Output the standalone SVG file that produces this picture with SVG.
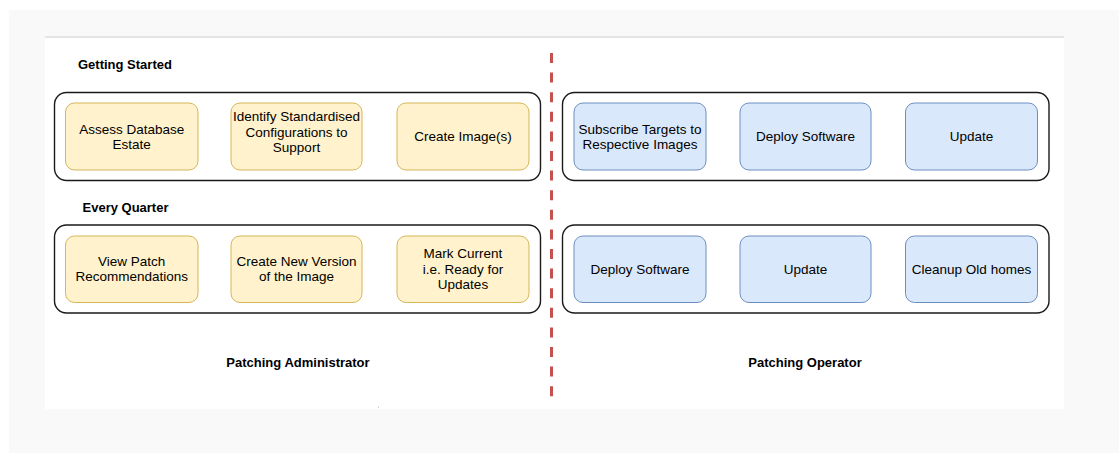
<svg xmlns="http://www.w3.org/2000/svg" width="1119" height="453" viewBox="0 0 1119 453">
<style>
.bg{fill:#f9f9f9}
.panel{fill:#ffffff}
.cont{fill:none;stroke:#1a1a1a;stroke-width:1.4}
.y{fill:#fff2cc;stroke:#d6b656;stroke-width:1}
.b{fill:#dae8fc;stroke:#6c8ebf;stroke-width:1}
text{font-family:"Liberation Sans",Arial,sans-serif;font-size:13.5px;fill:#000;text-anchor:middle}
.h{font-weight:bold;text-anchor:start;font-size:13px}
.f{font-weight:bold;font-size:13px}
</style>
<rect x="0" y="0" width="1119" height="453" fill="#ffffff"/>
<rect class="bg" x="9" y="10" width="1110" height="443"/>
<rect class="panel" x="45" y="37" width="1019" height="372"/>
<rect x="45" y="36" width="1019" height="2" fill="#e4e4e4"/>
<circle cx="378.5" cy="407" r="0.5" fill="#999"/>

<g id="connectors">
<line x1="551.5" y1="53" x2="551.5" y2="403" stroke="#c4514e" stroke-width="3" stroke-dasharray="10 9.6"/>
</g>

<g id="label-getting-started"><text class="h" x="78" y="69">Getting Started</text></g>
<g id="label-every-quarter"><text class="h" x="82.5" y="212">Every Quarter</text></g>
<g id="label-admin"><text class="f" x="298" y="367">Patching Administrator</text></g>
<g id="label-operator"><text class="f" x="805" y="367">Patching Operator</text></g>

<g id="admin-row1"><rect class="cont" x="54.5" y="92.5" width="486" height="88" rx="12"/></g>
<g id="operator-row1"><rect class="cont" x="562.5" y="92.5" width="486.5" height="88" rx="12"/></g>
<g id="admin-row2"><rect class="cont" x="54.5" y="225" width="486" height="88" rx="12"/></g>
<g id="operator-row2"><rect class="cont" x="562.5" y="225" width="486.5" height="88" rx="12"/></g>

<g id="assess"><rect class="y" x="65.5" y="103" width="132.5" height="67" rx="9"/>
<text x="131.7" y="133.5">Assess Database</text><text x="131.7" y="148.5">Estate</text></g>
<g id="identify"><rect class="y" x="231" y="103" width="131" height="67" rx="9"/>
<text x="296.5" y="121">Identify Standardised</text><text x="296.5" y="136.5">Configurations to</text><text x="296.5" y="152">Support</text></g>
<g id="create-image"><rect class="y" x="397" y="103" width="132" height="67" rx="9"/>
<text x="463" y="141">Create Image(s)</text></g>

<g id="subscribe"><rect class="b" x="574" y="103" width="132" height="67" rx="9"/>
<text x="640" y="133.5">Subscribe Targets to</text><text x="640" y="148.5">Respective Images</text></g>
<g id="deploy1"><rect class="b" x="740" y="103" width="131" height="67" rx="9"/>
<text x="805.5" y="141">Deploy Software</text></g>
<g id="update1"><rect class="b" x="905.5" y="103" width="132" height="67" rx="9"/>
<text x="971.5" y="141">Update</text></g>

<g id="view-patch"><rect class="y" x="65.5" y="236" width="132.5" height="66.5" rx="9"/>
<text x="131.7" y="266">View Patch</text><text x="131.7" y="281">Recommendations</text></g>
<g id="new-version"><rect class="y" x="231" y="236" width="131" height="66.5" rx="9"/>
<text x="296.5" y="266">Create New Version</text><text x="296.5" y="281">of the Image</text></g>
<g id="mark-current"><rect class="y" x="397" y="236" width="132" height="66.5" rx="9"/>
<text x="463" y="258">Mark Current</text><text x="463" y="273.5">i.e. Ready for</text><text x="463" y="289">Updates</text></g>

<g id="deploy2"><rect class="b" x="574" y="236" width="132" height="66.5" rx="9"/>
<text x="640" y="273.5">Deploy Software</text></g>
<g id="update2"><rect class="b" x="740" y="236" width="131" height="66.5" rx="9"/>
<text x="805.5" y="273.5">Update</text></g>
<g id="cleanup"><rect class="b" x="905.5" y="236" width="132" height="66.5" rx="9"/>
<text x="971.5" y="273.5">Cleanup Old homes</text></g>
</svg>
